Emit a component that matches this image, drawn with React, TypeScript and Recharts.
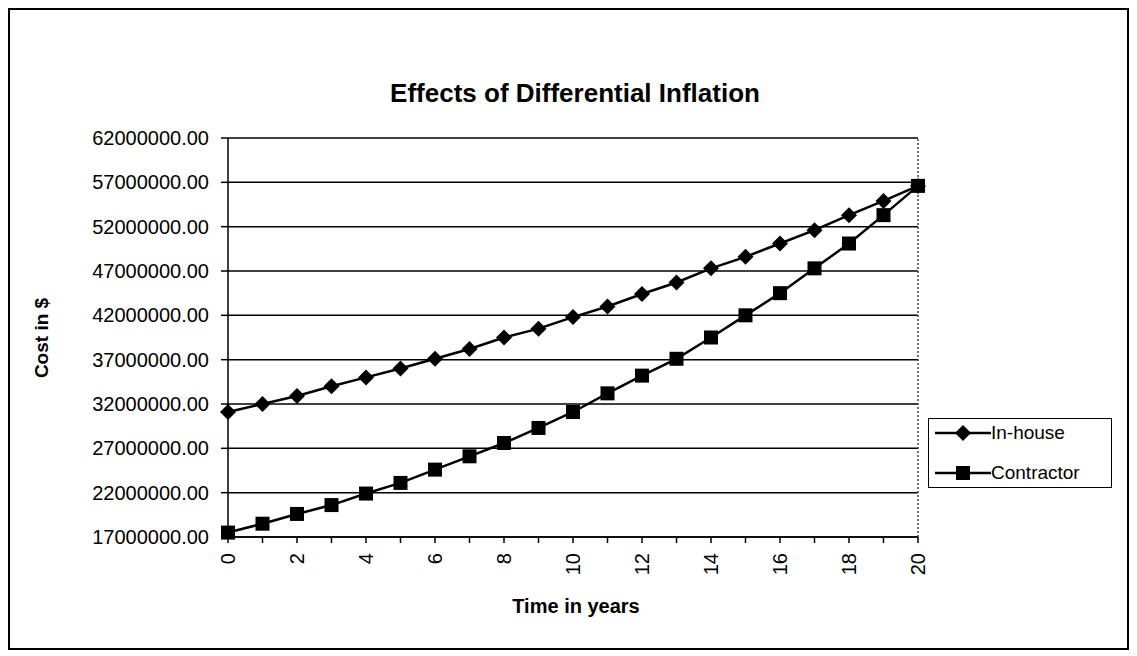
import { LineChart, Line, XAxis, YAxis, CartesianGrid, ReferenceLine } from 'recharts';

const years = [0, 1, 2, 3, 4, 5, 6, 7, 8, 9, 10, 11, 12, 13, 14, 15, 16, 17, 18, 19, 20];
const inHouse = [
  31100000, 32000000, 32900000, 34000000, 35000000, 36000000, 37100000, 38200000, 39500000, 40500000,
  41800000, 43000000, 44400000, 45700000, 47300000, 48600000, 50100000, 51600000, 53300000, 54900000, 56600000,
];
const contractor = [
  17500000, 18500000, 19600000, 20600000, 21900000, 23100000, 24600000, 26100000, 27600000, 29300000,
  31100000, 33200000, 35200000, 37100000, 39500000, 42000000, 44500000, 47300000, 50100000, 53300000, 56600000,
];
const yTicks = [17000000, 22000000, 27000000, 32000000, 37000000, 42000000, 47000000, 52000000, 57000000, 62000000];

const FONT = '"Liberation Sans", Arial, sans-serif';

const chartData = years.map((y, i) => ({ year: y, inHouse: inHouse[i], contractor: contractor[i] }));

interface DotProps {
  cx?: number;
  cy?: number;
  index?: number;
}

const Diamond = ({ cx, cy, index }: DotProps) => {
  if (cx == null || cy == null) return null;
  const r = 8;
  return (
    <path
      key={`d-${index}`}
      d={`M${cx},${cy - r} L${cx + r},${cy} L${cx},${cy + r} L${cx - r},${cy} Z`}
      fill="#000"
    />
  );
};

const Square = ({ cx, cy, index }: DotProps) => {
  if (cx == null || cy == null) return null;
  const r = 7;
  return <rect key={`s-${index}`} x={cx - r} y={cy - r} width={r * 2} height={r * 2} fill="#000" />;
};

const XTick = ({ x, y, payload }: { x?: number; y?: number; payload?: { value: number } }) => {
  if (!payload || payload.value % 2 !== 0) return null;
  return (
    <text
      transform={`translate(${x},${y}) rotate(-90)`}
      textAnchor="end"
      dy="0.35em"
      fontFamily={FONT}
      fontSize={20}
      fill="#000"
    >
      {payload.value}
    </text>
  );
};

// legend drawn by hand so it does not eat into the plot area
const LegendBox = () => (
  <div
    style={{
      position: 'absolute',
      left: 918,
      top: 408,
      width: 182,
      height: 68,
      border: '1px solid #000',
      background: '#fff',
      fontFamily: FONT,
      fontSize: 19,
      zIndex: 2,
    }}
  >
    <svg width={60} height={68} style={{ position: 'absolute', left: 4, top: 0 }}>
      <line x1={2} y1={14} x2={58} y2={14} stroke="#000" strokeWidth={2.5} />
      <path d="M30,6 L38,14 L30,22 L22,14 Z" fill="#000" />
      <line x1={2} y1={54} x2={58} y2={54} stroke="#000" strokeWidth={2.5} />
      <rect x={23} y={47} width={14} height={14} fill="#000" />
    </svg>
    <div style={{ position: 'absolute', left: 62, top: 3, lineHeight: '22px' }}>In-house</div>
    <div style={{ position: 'absolute', left: 62, top: 43, lineHeight: '22px' }}>Contractor</div>
  </div>
);

export default function App() {
  return (
    <div
      style={{
        position: 'relative',
        width: 1117,
        height: 638,
        border: '2px solid #000',
        background: '#fff',
        fontFamily: FONT,
      }}
    >
      <div
        style={{
          position: 'absolute',
          left: 0,
          top: 68,
          width: 1130,
          textAlign: 'center',
          fontSize: 26,
          fontWeight: 'bold',
          lineHeight: '30px',
          zIndex: 2,
        }}
      >
        Effects of Differential Inflation
      </div>
      <div
        style={{
          position: 'absolute',
          left: 32,
          top: 328,
          transform: 'translate(-50%, -50%) rotate(-90deg)',
          fontSize: 19,
          fontWeight: 'bold',
          whiteSpace: 'nowrap',
          zIndex: 2,
        }}
      >
        Cost in $
      </div>
      <div
        style={{
          position: 'absolute',
          left: 566,
          top: 596,
          transform: 'translate(-50%, -50%)',
          fontSize: 20,
          fontWeight: 'bold',
          whiteSpace: 'nowrap',
          zIndex: 2,
        }}
      >
        Time in years
      </div>
      <LegendBox />
      <LineChart
        width={1117}
        height={638}
        data={chartData}
        margin={{ top: 128, right: 209, bottom: 51, left: 0 }}
      >
        <CartesianGrid horizontal vertical={false} stroke="#000" strokeWidth={1.5} />
        <XAxis
          dataKey="year"
          type="number"
          domain={[0, 20]}
          ticks={years}
          interval={0}
          height={60}
          tickSize={6}
          tickMargin={10}
          stroke="#000"
          strokeWidth={1.5}
          tick={<XTick />}
        />
        <YAxis
          type="number"
          domain={[17000000, 62000000]}
          ticks={yTicks}
          interval={0}
          width={218}
          tickSize={7}
          tickMargin={12}
          stroke="#000"
          strokeWidth={1.5}
          tick={{ fill: '#000', fontSize: 20, fontFamily: FONT }}
          tickFormatter={(v: number) => v.toFixed(2)}
        />
        <ReferenceLine x={20} stroke="#444" strokeDasharray="2 2" strokeWidth={1.5} />
        <Line
          type="linear"
          dataKey="inHouse"
          name="In-house"
          stroke="#000"
          strokeWidth={2.5}
          dot={<Diamond />}
          activeDot={false}
          isAnimationActive={false}
        />
        <Line
          type="linear"
          dataKey="contractor"
          name="Contractor"
          stroke="#000"
          strokeWidth={2.5}
          dot={<Square />}
          activeDot={false}
          isAnimationActive={false}
        />
      </LineChart>
    </div>
  );
}
